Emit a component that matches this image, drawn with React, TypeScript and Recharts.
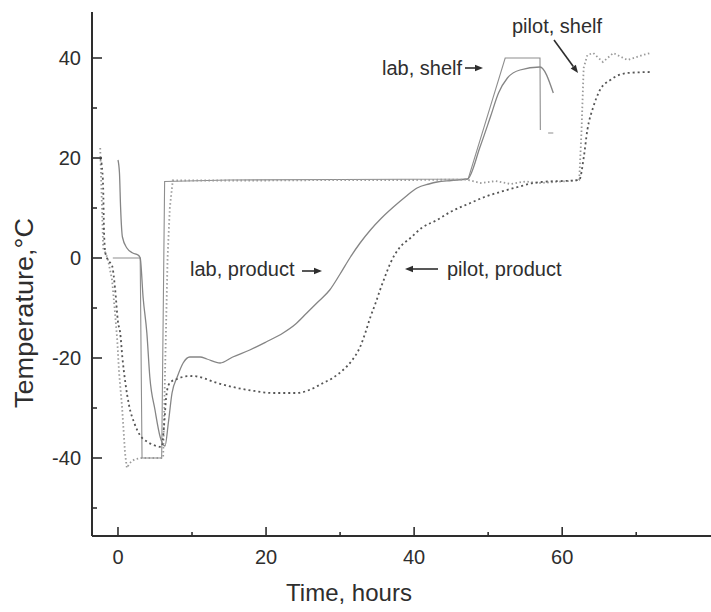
import React from "react";
import { LineChart, Line, XAxis, YAxis } from "recharts";

// ---------------------------------------------------------------------------
// Data: time in hours, temperature in °C
// ---------------------------------------------------------------------------

const labShelfTime = [-0.7, 3.0, 3.25, 5.9, 6.3, 15, 30, 47.3, 52.3, 57.0, 57.05, 57.6, 58.1, 58.8];
const labShelfTemp = [0, 0, -40, -40, 15.3, 15.6, 15.7, 15.8, 40, 40, 25.6, null, 25, 25];

const labProductTime = [
  0, 0.2, 0.35, 0.6, 1.2, 2.0, 2.7, 3.0, 3.4, 3.9, 4.3, 5.0, 5.7, 6.35, 6.8, 7.3, 8.0, 8.8,
  9.7, 11.1, 12.0, 13.8, 15.5, 17.8, 20, 22.3, 24, 25.5, 27, 28.6, 30, 31.4, 32.7, 34.1,
  35.6, 37.2, 38.8, 40.4, 42, 43.1, 45, 47.2, 48.9, 50.3, 51.4, 52.6, 54.3, 57.0, 58.8,
];
const labProductTemp = [
  19.6, 17, 10.2, 4.2, 2, 1, 0.6, 0, -8, -15, -23.8, -30.4, -35.8, -37.6, -33, -27, -23.8, -21,
  -19.8, -19.8, -20.2, -21, -19.8, -18.4, -16.8, -15, -13.2, -11, -8.8, -6.4, -3.2, 0.2, 3, 5.6,
  8, 10.2, 12.2, 14, 14.8, 15.2, 15.5, 15.8, 22.2, 28.2, 33, 36, 37.6, 38.2, 33,
];

const pilotShelfTime = [
  -2.4, -2.2, -2.0, -1.4, -0.8, -0.4, -0.1, 0.15, 0.55, 0.95, 1.2, 1.6, 2.2, 3, 4.5, 6.1, 6.4,
  6.7, 7.0, 7.4, 10, 20, 30, 40, 47, 49, 51, 53, 55, 57, 59, 61, 62.3, 62.6, 62.9, 63.4, 64.2,
  65.5, 66.9, 68.8, 70.9, 71.9,
];
const pilotShelfTemp = [
  22, 12, 2, 0, -4.4, -11, -16.4, -23, -29.8, -39, -42, -41, -40.3, -40, -40, -40, -20,
  0, 10, 15.5, 15.5, 15.5, 15.6, 15.6, 15.7, 15.0, 15.4, 14.8, 15.3, 15.0, 15.2, 15.4, 15.6, 25, 38,
  40.6, 41, 39.2, 41, 39.6, 40.6, 41,
];

const pilotProductTime = [
  -2.4, -2.2, -2.0, -1.9, -1.7, -1.3, -0.8, -0.4, 0, 0.3, 0.6, 1.0, 1.5, 2.2, 3.0, 4.0, 5.0, 5.9,
  6.2, 6.5, 6.8, 7.3, 8.0, 9.0, 10.1, 11.5, 13, 15.5, 18, 21, 24.2, 26, 27.7, 29, 30.4, 31.6, 32.7,
  33.4, 34.1, 34.8, 35.4, 36.1, 36.8, 38, 39.5, 41, 43.1, 45, 47.6, 49.5, 51.6, 54, 56.1, 58, 60,
  62.3, 62.9, 63.4, 64.2, 65.1, 66.5, 68.8, 71.9,
];
const pilotProductTemp = [
  20, 18.6, 14, 6, 1, -0.5, -1.5, -6, -12.8, -15, -20, -25, -29.5, -33, -35.5, -36.8, -37.5, -37.8,
  -34, -28, -25.5, -24.6, -24.2, -23.7, -23.6, -24, -24.8, -25.8, -26.5, -27, -27, -26.3, -25, -24,
  -22.4, -20.5, -17.8, -15, -11.8, -9, -6.4, -3.6, -1, 2, 4, 6, 7.6, 9.3, 11, 12.2, 13.2, 14.2, 15,
  15.3, 15.4, 15.6, 20, 25.6, 30.2, 33.6, 35.6, 37, 37.2,
];

const xTicks = [0, 10, 20, 30, 40, 50, 60, 70];
const yTicks = [-50, -40, -30, -20, -10, 0, 10, 20, 30, 40];

const toPoints = (time: number[], temp: (number | null)[]) =>
  time.map((t, i) => ({ t, v: temp[i] }));

const labShelf = toPoints(labShelfTime, labShelfTemp);
const labProduct = toPoints(labProductTime, labProductTemp);
const pilotShelf = toPoints(pilotShelfTime, pilotShelfTemp);
const pilotProduct = toPoints(pilotProductTime, pilotProductTemp);

const FONT = "'Liberation Sans', Arial, Helvetica, sans-serif";
const INK = "#2e2e2e";

// ---------------------------------------------------------------------------
// Inward ticks: long with a label every 20, short ones in between
// ---------------------------------------------------------------------------

function YTick(props: any) {
  const { x, y, payload } = props;
  const major = payload.value % 20 === 0;
  return (
    <g>
      <line x1={x} x2={x + (major ? 10 : 5)} y1={y} y2={y} stroke={INK} strokeWidth={1.6} />
      {major && (
        <text x={x - 11} y={y + 7} textAnchor="end" fontSize={20} fontFamily={FONT} fill={INK}>
          {payload.value}
        </text>
      )}
    </g>
  );
}

function XTick(props: any) {
  const { x, y, payload } = props;
  const major = payload.value % 20 === 0;
  return (
    <g>
      <line x1={x} x2={x} y1={y} y2={y - (major ? 9 : 4)} stroke={INK} strokeWidth={1.6} />
      {major && (
        <text x={x} y={y + 28} textAnchor="middle" fontSize={20} fontFamily={FONT} fill={INK}>
          {payload.value}
        </text>
      )}
    </g>
  );
}

function Arrow({ x1, y1, x2, y2 }: { x1: number; y1: number; x2: number; y2: number }) {
  const a = Math.atan2(y2 - y1, x2 - x1);
  const len = 8;
  const w = 3.2;
  const bx = x2 - len * Math.cos(a);
  const by = y2 - len * Math.sin(a);
  const px = -Math.sin(a) * w;
  const py = Math.cos(a) * w;
  return (
    <g>
      <line x1={x1} y1={y1} x2={bx} y2={by} stroke={INK} strokeWidth={1.6} />
      <polygon points={`${x2},${y2} ${bx + px},${by + py} ${bx - px},${by - py}`} fill={INK} />
    </g>
  );
}

export default function App() {
  return (
    <div style={{ position: "absolute", left: 0, top: 0, width: 711, height: 612, background: "#fff" }}>
      <LineChart width={711} height={612} margin={{ top: 12, right: 0, bottom: 36, left: 32 }}>
        <XAxis
          type="number"
          dataKey="t"
          domain={[-3.51, 80.1]}
          allowDataOverflow
          ticks={xTicks}
          interval={0}
          height={40}
          tickSize={0}
          tickMargin={0}
          tick={(p: any) => <XTick {...p} />}
          axisLine={{ stroke: INK, strokeWidth: 2 }}
        />
        <YAxis
          type="number"
          dataKey="v"
          domain={[-55.6, 49.2]}
          allowDataOverflow
          ticks={yTicks}
          interval={0}
          width={60}
          tickSize={0}
          tickMargin={0}
          tick={(p: any) => <YTick {...p} />}
          axisLine={{ stroke: INK, strokeWidth: 2 }}
        />
        <Line
          data={labShelf}
          dataKey="v"
          type="linear"
          stroke="#8e8e8e"
          strokeWidth={1.1}
          dot={false}
          isAnimationActive={false}
        />
        <Line
          data={labProduct}
          dataKey="v"
          type="monotone"
          stroke="#858585"
          strokeWidth={1.3}
          dot={false}
          isAnimationActive={false}
        />
        <Line
          data={pilotShelf}
          dataKey="v"
          type="linear"
          stroke="#9a9a9a"
          strokeWidth={1.8}
          strokeDasharray="1.5 2.5"
          dot={false}
          isAnimationActive={false}
        />
        <Line
          data={pilotProduct}
          dataKey="v"
          type="monotone"
          stroke="#555555"
          strokeWidth={1.8}
          strokeDasharray="2 3"
          dot={false}
          isAnimationActive={false}
        />
      </LineChart>

      {/* axis titles and annotations */}
      <svg
        width={711}
        height={612}
        style={{ position: "absolute", left: 0, top: 0, pointerEvents: "none" }}
        fontFamily={FONT}
        fill={INK}
      >
        <text x={349} y={601} textAnchor="middle" fontSize={24}>
          Time, hours
        </text>
        <text
          x={33}
          y={313}
          textAnchor="middle"
          fontSize={25}
          textLength={190}
          lengthAdjust="spacingAndGlyphs"
          transform="rotate(-90 33 313)"
        >
          Temperature,°C
        </text>

        <text x={382} y={75} fontSize={20}>lab, shelf</text>
        <Arrow x1={465} y1={68} x2={483} y2={68} />

        <text x={512} y={33} fontSize={20}>pilot, shelf</text>
        <Arrow x1={554} y1={40} x2={578} y2={73} />

        <text x={190} y={276} fontSize={20}>lab, product</text>
        <Arrow x1={302} y1={271} x2={322} y2={271} />

        <text x={447} y={276} fontSize={20}>pilot, product</text>
        <Arrow x1={438} y1={269} x2={405} y2={269} />
      </svg>
    </div>
  );
}
